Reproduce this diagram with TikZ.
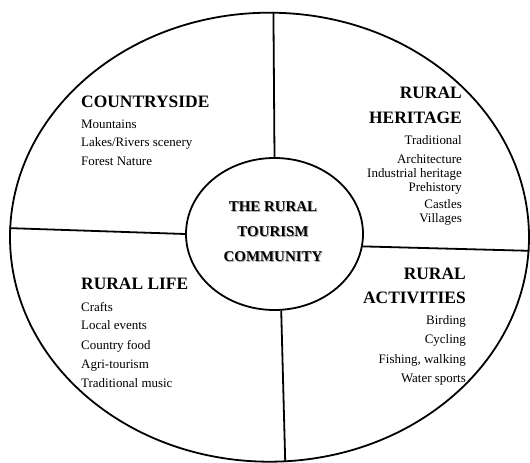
\documentclass[tikz,border=0pt]{standalone}
\usepackage{fontspec}
\setmainfont{Liberation Serif}
\usetikzlibrary{shapes.geometric}
\begin{document}
\begin{tikzpicture}[line join=bevel,
  headtxt/.style={inner sep=0pt,font=\fontsize{17.5}{20}\selectfont\bfseries},
  itemtxt/.style={inner sep=0pt,font=\fontsize{13}{15}\selectfont},
  hubtxt/.style={inner sep=0pt,font=\fontsize{15}{18}\selectfont\bfseries},
  spoke/.style={black,line width=1.8bp},
]
\useasboundingbox (0bp,0bp) rectangle (530bp,463bp);
%%
\node (ring) at (269.5bp,225.8bp) [draw,ellipse,line width=1.8bp,inner sep=0pt,minimum width=519bp,minimum height=449bp] {};
  \node (hub) at (274.5bp,229.0bp) [draw,ellipse,line width=1.8bp,inner sep=0pt,minimum width=177bp,minimum height=152bp] {};
  \draw [spoke] (hub.north) -- (ring.89.4);
  \draw [spoke] (hub.180) -- (ring.178.7);
  \draw [spoke] (hub.-8.4) -- (ring.-3.3);
  \draw [spoke] (hub.-85.9) -- (ring.-86.6);
%
\node (hub_shadow_0) at (274.0bp,250.3bp) [hubtxt,anchor=base,black!35] {THE RURAL};
  \node (hub_shadow_1) at (274.0bp,225.3bp) [hubtxt,anchor=base,black!35] {TOURISM};
  \node (hub_shadow_2) at (274.0bp,200.3bp) [hubtxt,anchor=base,black!35] {COMMUNITY};
  \node (hub_0) at (273.0bp,251.3bp) [hubtxt,anchor=base] {THE RURAL};
  \node (hub_1) at (273.0bp,226.3bp) [hubtxt,anchor=base] {TOURISM};
  \node (hub_2) at (273.0bp,201.3bp) [hubtxt,anchor=base] {COMMUNITY};
%
\node (countryside_0) at (81.0bp,355.7bp) [headtxt,anchor=base west] {COUNTRYSIDE};
  \node (countryside_1) at (81.0bp,334.7bp) [itemtxt,anchor=base west] {Mountains};
  \node (countryside_2) at (81.0bp,316.3bp) [itemtxt,anchor=base west] {Lakes/Rivers scenery};
  \node (countryside_3) at (81.0bp,297.3bp) [itemtxt,anchor=base west] {Forest Nature};
%
\node (heritage_0) at (462.0bp,364.7bp) [headtxt,anchor=base east] {RURAL};
  \node (heritage_1) at (462.0bp,339.7bp) [headtxt,anchor=base east] {HERITAGE};
  \node (heritage_2) at (462.0bp,318.7bp) [itemtxt,anchor=base east] {Traditional};
  \node (heritage_3) at (462.0bp,299.7bp) [itemtxt,anchor=base east] {Architecture};
  \node (heritage_4) at (462.0bp,285.3bp) [itemtxt,anchor=base east] {Industrial heritage};
  \node (heritage_5) at (462.0bp,271.0bp) [itemtxt,anchor=base east] {Prehistory};
  \node (heritage_6) at (462.0bp,254.5bp) [itemtxt,anchor=base east] {Castles};
  \node (heritage_7) at (462.0bp,240.0bp) [itemtxt,anchor=base east] {Villages};
%
\node (life_0) at (81.0bp,173.0bp) [headtxt,anchor=base west] {RURAL LIFE};
  \node (life_1) at (81.0bp,151.3bp) [itemtxt,anchor=base west] {Crafts};
  \node (life_2) at (81.0bp,133.0bp) [itemtxt,anchor=base west] {Local events};
  \node (life_3) at (81.0bp,113.7bp) [itemtxt,anchor=base west] {Country food};
  \node (life_4) at (81.0bp,94.7bp) [itemtxt,anchor=base west] {Agri-tourism};
  \node (life_5) at (81.0bp,75.7bp) [itemtxt,anchor=base west] {Traditional music};
%
\node (activities_0) at (466.0bp,183.0bp) [headtxt,anchor=base east] {RURAL};
  \node (activities_1) at (466.0bp,159.0bp) [headtxt,anchor=base east] {ACTIVITIES};
  \node (activities_2) at (466.0bp,138.0bp) [itemtxt,anchor=base east] {Birding};
  \node (activities_3) at (466.0bp,119.0bp) [itemtxt,anchor=base east] {Cycling};
  \node (activities_4) at (466.0bp,99.7bp) [itemtxt,anchor=base east] {Fishing, walking};
  \node (activities_5) at (466.0bp,80.3bp) [itemtxt,anchor=base east] {Water sports};
%
\end{tikzpicture}
\end{document}
